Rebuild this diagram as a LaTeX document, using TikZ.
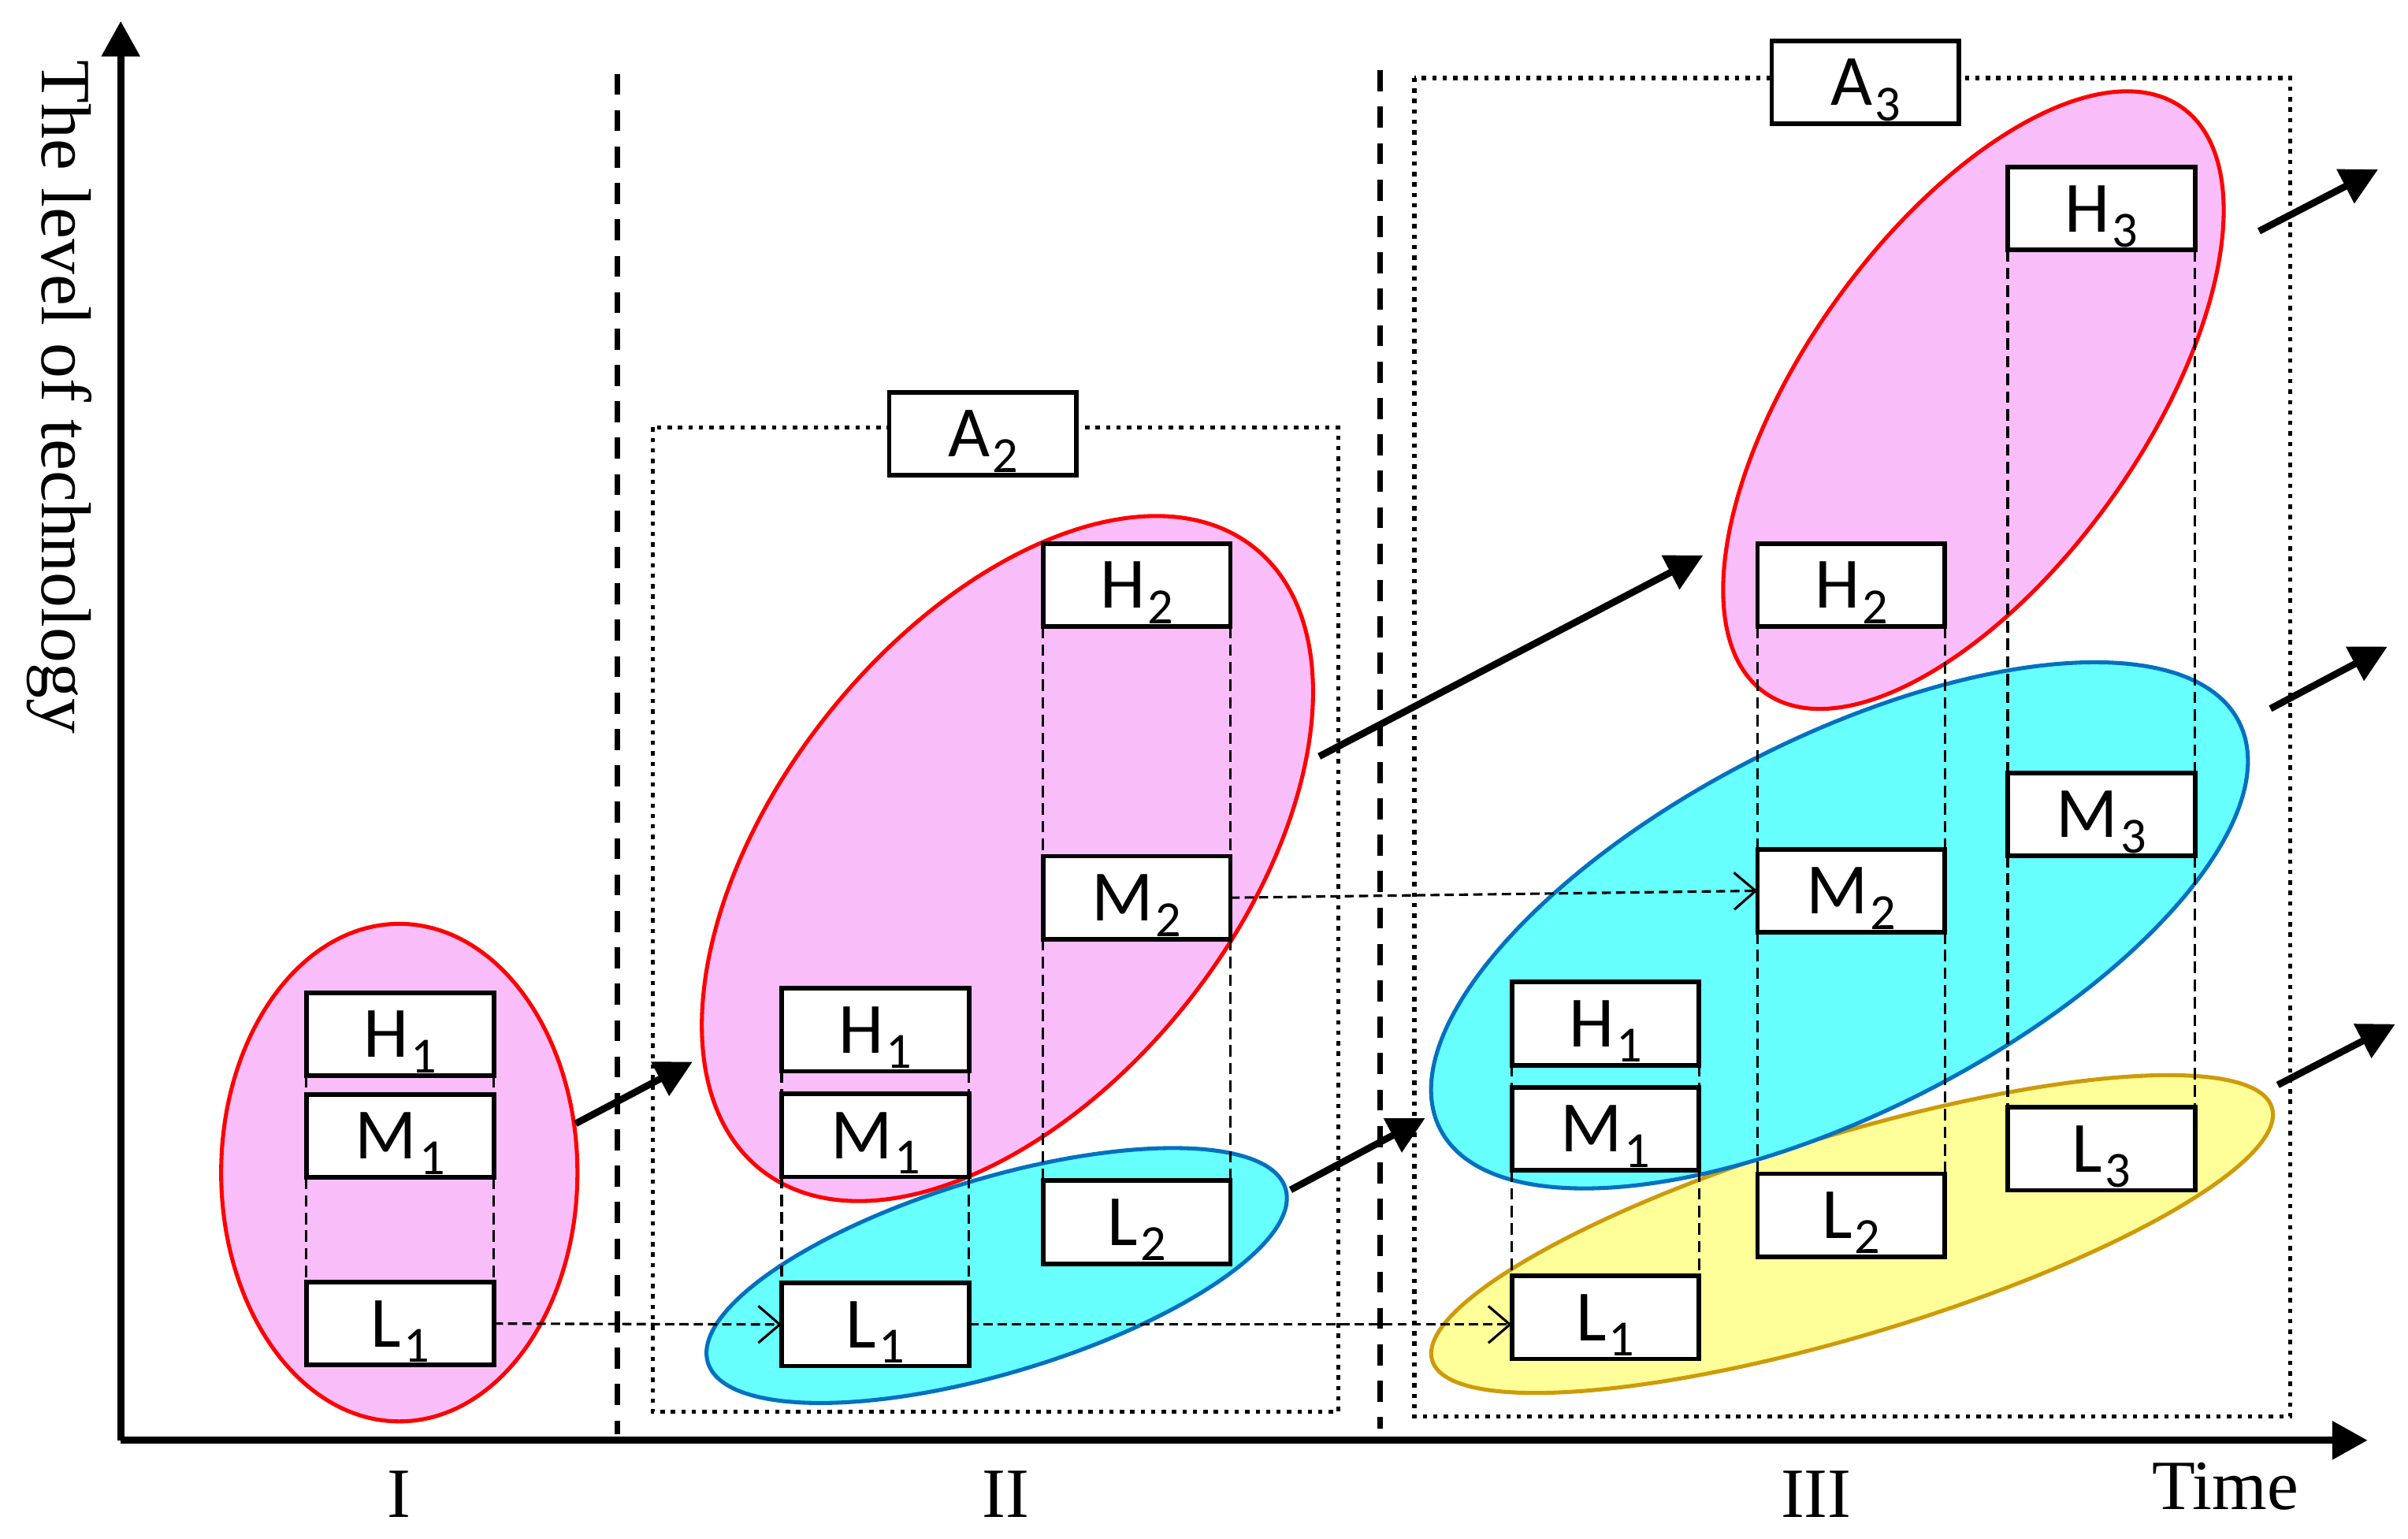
\documentclass[tikz,border=0pt]{standalone}
\usepackage{fontspec}
\setmainfont{Liberation Serif}
\newfontfamily\boxfont{Carlito}
\usetikzlibrary{arrows.meta}
\definecolor{pinkfill}{RGB}{249,190,249}
\definecolor{pinkline}{RGB}{255,0,0}
\definecolor{cyanfill}{RGB}{104,255,255}
\definecolor{cyanline}{RGB}{0,112,192}
\definecolor{yelfill}{RGB}{255,255,153}
\definecolor{yelline}{RGB}{205,155,10}
\newcommand{\lv}[2]{#1\hspace{1.5pt}\smash{\raisebox{-10pt}{\fontsize{33}{33}\selectfont #2}}}
\begin{document}
\begin{tikzpicture}[x=1pt,y=-1pt,
  lvlbox/.style={draw, line width=3pt, fill=white, minimum width=122pt, minimum height=54pt,
    inner sep=0pt, outer sep=0pt, font=\boxfont\fontsize{47}{47}\selectfont},
  serif/.style={inner sep=0pt, font=\fontsize{46}{46}\selectfont},
  pinkell/.style={fill=pinkfill, draw=pinkline, line width=2.6pt},
  cyanell/.style={fill=cyanfill, draw=cyanline, line width=2.6pt},
  yelell/.style={fill=yelfill, draw=yelline, line width=2.6pt},
  guide/.style={line width=1.7pt, dash pattern=on 7.5pt off 4pt},
  flow/.style={line width=1.6pt, dash pattern=on 6pt off 3.3pt, -{Straight Barb[length=14pt,width=24pt]}},
  divider/.style={line width=3.5pt, dash pattern=on 13.7pt off 10pt},
  dotbox/.style={line width=2.8pt, dash pattern=on 2.8pt off 4pt},
  bigarrow/.style={line width=4.5pt, -{Triangle[length=24pt,width=24pt]}},
  axis/.style={line width=4.8pt, -{Triangle[length=23pt,width=24pt]}}
]
\useasboundingbox (0,0) rectangle (1568,1001.6);

% ellipses
\draw[pinkell] (260,763.5) ellipse [x radius=116pt, y radius=162pt];
\draw[pinkell, rotate around={51.6:(656,559)}] (656,559) ellipse [x radius=258.5pt, y radius=150pt];
\draw[cyanell, rotate around={16.75:(649,830.5)}] (649,830.5) ellipse [x radius=196.4pt, y radius=63.4pt];
\draw[pinkell, rotate around={54.5:(1285,260.5)}] (1285,260.5) ellipse [x radius=234pt, y radius=110.5pt];
\draw[yelell, rotate around={16.75:(1206,803.5)}] (1206,803.5) ellipse [x radius=285.5pt, y radius=65.5pt];
\draw[cyanell, rotate around={27.0:(1197.8,602.5)}] (1197.8,602.5) ellipse [x radius=291.9pt, y radius=121.8pt];

% axes
\coordinate (O) at (78.6,937.8);
\coordinate (Ytip) at (78.6,13.7);
\coordinate (Xtip) at (1541.7,937.8);
\draw[axis] (O) -- (Ytip);
\draw[axis] (O) -- (Xtip);

% dividers
\coordinate (d2t) at (401.9,48);
\coordinate (d2b) at (401.9,934);
\coordinate (d3t) at (898.5,45.8);
\coordinate (d3b) at (898.5,930);
\draw[divider] (d2t) -- (d2b);
\draw[divider] (d3t) -- (d3b);

% dotted boxes
\coordinate (b2a) at (425,278.3);
\coordinate (b2b) at (871.4,919.3);
\coordinate (b3a) at (921,50.7);
\coordinate (b3b) at (1491.3,922.4);
\draw[dotbox] (b2a) rectangle (b2b);
\draw[dotbox] (b3a) rectangle (b3b);

% boxes: stage I
\node[lvlbox] (H1a) at (260.5,673.4) {\lv{H}{1}};
\node[lvlbox] (M1a) at (260.5,739.6) {\lv{M}{1}};
\node[lvlbox] (L1a) at (260.5,861.8) {\lv{L}{1}};
% stage II
\node[lvlbox] (H1b) at (570,670.5) {\lv{H}{1}};
\node[lvlbox] (M1b) at (570,739.3) {\lv{M}{1}};
\node[lvlbox] (L1b) at (570,862.4) {\lv{L}{1}};
\node[lvlbox] (H2b) at (740.2,381) {\lv{H}{2}};
\node[lvlbox] (M2b) at (740.2,584.5) {\lv{M}{2}};
\node[lvlbox] (L2b) at (740.2,795.8) {\lv{L}{2}};
% stage III
\node[lvlbox] (H1c) at (1045.4,666.5) {\lv{H}{1}};
\node[lvlbox] (M1c) at (1045.4,735) {\lv{M}{1}};
\node[lvlbox] (L1c) at (1045.4,857.8) {\lv{L}{1}};
\node[lvlbox] (H2c) at (1205.4,381) {\lv{H}{2}};
\node[lvlbox] (M2c) at (1205.4,580) {\lv{M}{2}};
\node[lvlbox] (L2c) at (1205.4,791.2) {\lv{L}{2}};
\node[lvlbox] (H3c) at (1368.3,135.8) {\lv{H}{3}};
\node[lvlbox] (M3c) at (1368.3,530.2) {\lv{M}{3}};
\node[lvlbox] (L3c) at (1368.3,748) {\lv{L}{3}};
% area labels
\node[lvlbox] (A2) at (640,282.5) {\lv{A}{2}};
\node[lvlbox] (A3) at (1214.7,53.6) {\lv{A}{3}};

% guide lines between boxes
\foreach \u/\v in {H1a/M1a, M1a/L1a, H1b/M1b, M1b/L1b, H2b/M2b, M2b/L2b,
                   H1c/M1c, M1c/L1c, H2c/M2c, M2c/L2c, H3c/M3c, M3c/L3c} {
  \draw[guide] (\u.south west) -- (\v.north west);
  \draw[guide] (\u.south east) -- (\v.north east);
}

% flow arrows
\draw[flow] (L1a.east) -- (L1b.west);
\draw[flow] (L1b.east) -- (L1b.east -| L1c.west);
\draw[flow] (M2b.east) -- (M2c.west);

% big arrows
\coordinate (a1s) at (374.8,731.6); \coordinate (a1e) at (451,691.3);
\coordinate (a2s) at (840.4,774.7); \coordinate (a2e) at (928,728);
\coordinate (a3s) at (859,492.5);   \coordinate (a3e) at (1109,361.6);
\coordinate (a4s) at (1471,150.5);  \coordinate (a4e) at (1548.5,110.3);
\coordinate (a5s) at (1478.4,461.4); \coordinate (a5e) at (1554.6,421);
\coordinate (a6s) at (1483.2,706.4); \coordinate (a6e) at (1559.7,666.8);
\foreach \k in {1,...,6} { \draw[bigarrow] (a\k s) -- (a\k e); }

% labels
\node[serif, rotate=-90, anchor=base] (ylab) at (27.4,258.5) {The level of technology};
\node[serif] (s1) at (259.6,973) {I};
\node[serif] (s2) at (655,973) {II};
\node[serif] (s3) at (1182.6,973) {III};
\node[serif] (tlab) at (1449,968) {Time};
\end{tikzpicture}
\end{document}
